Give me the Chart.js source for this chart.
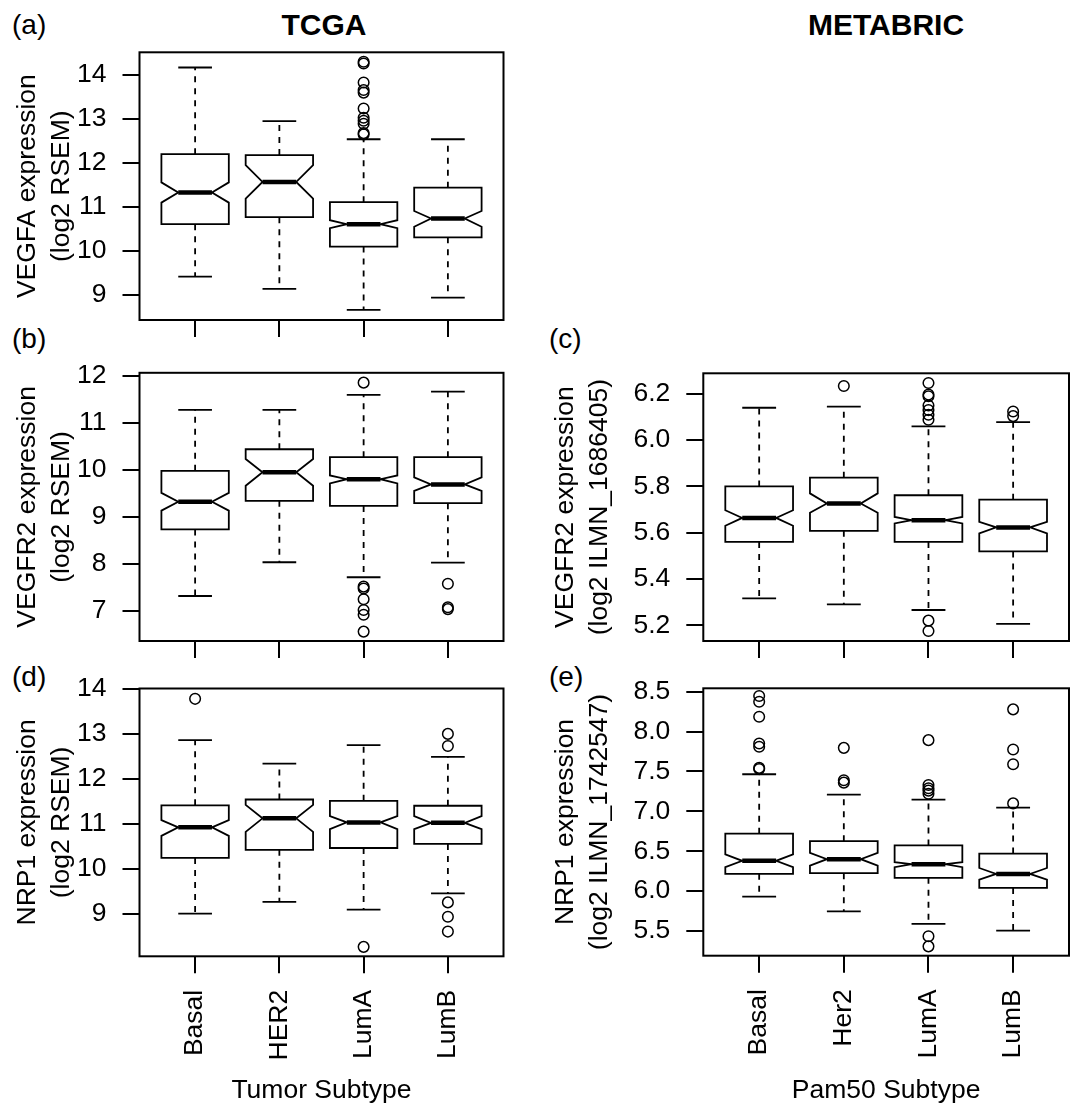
<!DOCTYPE html>
<html>
<head>
<meta charset="utf-8">
<title>VEGF pathway expression by subtype</title>
<script src="https://cdn.jsdelivr.net/npm/chart.js@4.4.0/dist/chart.umd.min.js"></script>
<style>
  body { margin: 0; background: #fff; font-family: "Liberation Sans", Arial, Helvetica, sans-serif; }
  #page { position: relative; width: 1085px; height: 1107px; overflow: hidden; background: #fff; }
  canvas { position: absolute; }
  .lab { position: absolute; font-size: 28px; line-height: 28px; color: #000; white-space: nowrap; }
  .head { position: absolute; width: 300px; text-align: center; font-size: 30px; line-height: 30px; font-weight: bold; color: #000; }
</style>
</head>
<body>
<div id="page">
  <div class="head" style="left:174px;top:10px">TCGA</div>
  <div class="head" style="left:736px;top:10px">METABRIC</div>
  <div class="lab" style="left:12px;top:11px">(a)</div>
  <div class="lab" style="left:12px;top:325px">(b)</div>
  <div class="lab" style="left:549px;top:325px">(c)</div>
  <div class="lab" style="left:12px;top:663px">(d)</div>
  <div class="lab" style="left:549px;top:663px">(e)</div>

  <canvas id="panelA" width="540" height="300" style="left:0;top:40px"></canvas>
  <canvas id="panelB" width="540" height="300" style="left:0;top:360px"></canvas>
  <canvas id="panelC" width="545" height="300" style="left:540px;top:360px"></canvas>
  <canvas id="panelD" width="540" height="431" style="left:0;top:676px"></canvas>
  <canvas id="panelE" width="545" height="431" style="left:540px;top:676px"></canvas>
</div>

<script>
  // groups on the x axis
  const tcgaGroups = ['Basal', 'HER2', 'LumA', 'LumB'];
  const metabricGroups = ['Basal', 'Her2', 'LumA', 'LumB'];

  // (a) VEGFA, TCGA
  const aLow = [9.42, 9.14, 8.66, 8.94];
  const aQ1 = [10.61, 10.77, 10.10, 10.31];
  const aNotchLow = [11.10, 11.19, 10.52, 10.55];
  const aMedian = [11.33, 11.57, 10.61, 10.74];
  const aNotchHigh = [11.56, 11.95, 10.70, 10.91];
  const aQ3 = [12.20, 12.18, 11.11, 11.44];
  const aHigh = [14.17, 12.95, 12.54, 12.54];
  const aOutliers = [[], [], [14.30, 14.26, 13.83, 13.66, 13.60, 13.24, 13.03, 12.96, 12.89, 12.68, 12.65], []];
  const aTicks = [9, 10, 11, 12, 13, 14];

  // (b) VEGFR2, TCGA
  const bLow = [7.31, 8.03, 7.71, 8.02];
  const bQ1 = [8.73, 9.34, 9.23, 9.29];
  const bNotchLow = [9.13, 9.66, 9.71, 9.55];
  const bMedian = [9.32, 9.95, 9.80, 9.69];
  const bNotchHigh = [9.51, 10.23, 9.88, 9.84];
  const bQ3 = [9.98, 10.44, 10.27, 10.27];
  const bHigh = [11.28, 11.28, 11.60, 11.67];
  const bOutliers = [[], [], [11.86, 7.51, 7.47, 7.24, 7.01, 6.91, 6.55], [7.57, 7.07, 7.03]];
  const bTicks = [7, 8, 9, 10, 11, 12];

  // (c) VEGFR2, METABRIC
  const cLow = [5.316, 5.290, 5.266, 5.206];
  const cQ1 = [5.560, 5.608, 5.560, 5.519];
  const cNotchLow = [5.630, 5.686, 5.640, 5.597];
  const cMedian = [5.664, 5.726, 5.654, 5.623];
  const cNotchHigh = [5.697, 5.770, 5.668, 5.647];
  const cQ3 = [5.800, 5.838, 5.762, 5.743];
  const cHigh = [6.140, 6.145, 6.060, 6.078];
  const cOutliers = [[], [6.234], [6.247, 6.197, 6.190, 6.150, 6.130, 6.110, 6.088, 5.220, 5.175], [6.124, 6.104]];
  const cTicks = [5.2, 5.4, 5.6, 5.8, 6.0, 6.2];

  // (d) NRP1, TCGA
  const dLow = [9.00, 9.26, 9.09, 9.45];
  const dQ1 = [10.24, 10.42, 10.46, 10.55];
  const dNotchLow = [10.73, 10.82, 10.88, 10.88];
  const dMedian = [10.92, 11.12, 11.03, 11.02];
  const dNotchHigh = [11.08, 11.42, 11.17, 11.17];
  const dQ3 = [11.41, 11.54, 11.51, 11.40];
  const dHigh = [12.86, 12.34, 12.75, 12.49];
  const dOutliers = [[13.78], [], [8.26], [13.00, 12.73, 9.25, 8.93, 8.60]];
  const dTicks = [9, 10, 11, 12, 13, 14];

  // (e) NRP1, METABRIC
  const eLow = [5.932, 5.747, 5.589, 5.504];
  const eQ1 = [6.217, 6.225, 6.167, 6.040];
  const eNotchLow = [6.300, 6.320, 6.300, 6.144];
  const eMedian = [6.380, 6.400, 6.338, 6.216];
  const eNotchHigh = [6.460, 6.480, 6.363, 6.290];
  const eQ3 = [6.720, 6.626, 6.573, 6.470];
  const eHigh = [7.465, 7.210, 7.147, 7.046];
  const eOutliers = [[8.446, 8.374, 8.186, 7.850, 7.810, 7.545, 7.530], [7.796, 7.390, 7.360],
                     [7.893, 7.330, 7.290, 7.260, 7.220, 5.433, 5.307], [8.279, 7.776, 7.591, 7.100]];
  const eTicks = [5.5, 6.0, 6.5, 7.0, 7.5, 8.0, 8.5];

  const FONT = "'Liberation Sans', Arial, Helvetica, sans-serif";
  const FONT_SIZE = 26.5;
  const BOX_HALF = 0.4;

  function boxPlugin(st) {
    return {
      id: 'notchBoxes',
      beforeDatasetsDraw(chart) {
        const { ctx, scales: { x, y } } = chart;
        const py = v => y.getPixelForValue(v);
        ctx.save();
        ctx.strokeStyle = '#000';
        ctx.lineJoin = 'miter';
        for (let i = 0; i < st.median.length; i++) {
          const cx = x.getPixelForValue(i + 1);
          const hw = x.getPixelForValue(i + 1 + BOX_HALF) - cx;
          // whiskers
          ctx.lineWidth = 1.8;
          ctx.setLineDash([6, 6]);
          ctx.beginPath();
          ctx.moveTo(cx, py(st.q3[i])); ctx.lineTo(cx, py(st.high[i]));
          ctx.moveTo(cx, py(st.q1[i])); ctx.lineTo(cx, py(st.low[i]));
          ctx.stroke();
          ctx.setLineDash([]);
          // staples
          ctx.beginPath();
          ctx.moveTo(cx - hw / 2, py(st.high[i])); ctx.lineTo(cx + hw / 2, py(st.high[i]));
          ctx.moveTo(cx - hw / 2, py(st.low[i])); ctx.lineTo(cx + hw / 2, py(st.low[i]));
          ctx.stroke();
          // notched box
          ctx.fillStyle = '#fff';
          ctx.beginPath();
          ctx.moveTo(cx - hw, py(st.q1[i]));
          ctx.lineTo(cx - hw, py(st.notchLow[i]));
          ctx.lineTo(cx - hw / 2, py(st.median[i]));
          ctx.lineTo(cx - hw, py(st.notchHigh[i]));
          ctx.lineTo(cx - hw, py(st.q3[i]));
          ctx.lineTo(cx + hw, py(st.q3[i]));
          ctx.lineTo(cx + hw, py(st.notchHigh[i]));
          ctx.lineTo(cx + hw / 2, py(st.median[i]));
          ctx.lineTo(cx + hw, py(st.notchLow[i]));
          ctx.lineTo(cx + hw, py(st.q1[i]));
          ctx.closePath();
          ctx.fill();
          ctx.stroke();
          // median
          ctx.lineWidth = 4.5;
          ctx.beginPath();
          ctx.moveTo(cx - hw / 2, py(st.median[i]));
          ctx.lineTo(cx + hw / 2, py(st.median[i]));
          ctx.stroke();
        }
        ctx.restore();
      },
      afterDraw(chart) {
        const { ctx, chartArea: a } = chart;
        ctx.save();
        ctx.strokeStyle = '#000';
        ctx.lineWidth = 2;
        ctx.strokeRect(a.left, a.top, a.right - a.left, a.bottom - a.top);
        ctx.restore();
      }
    };
  }

  // keep the plot box where the measured layout puts it
  function noPad(s) {
    s.paddingTop = 0;
    s.paddingBottom = 0;
    s.paddingLeft = 0;
    s.paddingRight = 0;
  }

  function makePanel(id, p) {
    const points = [];
    p.stats.outliers.forEach((list, i) => list.forEach(v => points.push({ x: i + 1, y: v })));
    const font = { family: FONT, size: FONT_SIZE };
    new Chart(document.getElementById(id), {
      type: 'scatter',
      data: {
        datasets: [{
          data: points,
          pointRadius: 5.3,
          pointBorderWidth: 1.5,
          pointBorderColor: '#000',
          pointBackgroundColor: 'rgba(0,0,0,0)',
          showLine: false
        }]
      },
      options: {
        responsive: false,
        devicePixelRatio: 1,
        animation: false,
        events: [],
        layout: { padding: { top: p.padTop, right: p.padRight, left: 0, bottom: 0 } },
        plugins: { legend: { display: false }, tooltip: { enabled: false } },
        scales: {
          x: {
            type: 'linear',
            min: 0.34,
            max: 4.66,
            afterBuildTicks: s => { s.ticks = p.groups.map((g, i) => ({ value: i + 1 })); },
            afterFit: s => { s.height = p.xAxisH; noPad(s); },
            ticks: {
              display: p.showX,
              callback: v => p.groups[Math.round(v) - 1],
              minRotation: 90,
              maxRotation: 90,
              autoSkip: false,
              padding: 16.5,
              color: '#000',
              font
            },
            grid: { display: true, drawOnChartArea: false, drawTicks: true, tickLength: 17, color: '#000', lineWidth: 2 },
            border: { display: false },
            title: { display: p.showX, text: p.xTitle, color: '#000', font, padding: { top: 0, bottom: 0 } }
          },
          y: {
            type: 'linear',
            min: p.yMin,
            max: p.yMax,
            afterBuildTicks: s => { s.ticks = p.ticks.map(v => ({ value: v })); },
            afterFit: s => { s.width = p.yAxisW; noPad(s); },
            ticks: { callback: v => p.fmt(v), padding: 16, color: '#000', font },
            grid: { display: true, drawOnChartArea: false, drawTicks: true, tickLength: 17, color: '#000', lineWidth: 2 },
            border: { display: false },
            title: {
              display: true,
              text: p.yTitle,
              color: '#000',
              font: { family: FONT, size: FONT_SIZE, lineHeight: 1.3 },
              padding: { top: p.yTitlePad, bottom: 0 }
            }
          }
        }
      },
      plugins: [boxPlugin(p.stats)]
    });
  }

  const intFmt = v => String(Math.round(v));
  const decFmt = v => v.toFixed(1);

  makePanel('panelA', {
    groups: tcgaGroups, ticks: aTicks, fmt: intFmt, yMin: 8.432, yMax: 14.516,
    yTitle: ['VEGFA expression', '(log2 RSEM)'], xTitle: 'Tumor Subtype', showX: false,
    padTop: 12.3, padRight: 36.5, xAxisH: 20, yAxisW: 139.5, yTitlePad: 10,
    stats: { low: aLow, q1: aQ1, notchLow: aNotchLow, median: aMedian, notchHigh: aNotchHigh, q3: aQ3, high: aHigh, outliers: aOutliers }
  });
  makePanel('panelB', {
    groups: tcgaGroups, ticks: bTicks, fmt: intFmt, yMin: 6.35, yMax: 12.07,
    yTitle: ['VEGFR2 expression', '(log2 RSEM)'], xTitle: 'Tumor Subtype', showX: false,
    padTop: 12.8, padRight: 36.5, xAxisH: 19, yAxisW: 139.5, yTitlePad: 10,
    stats: { low: bLow, q1: bQ1, notchLow: bNotchLow, median: bMedian, notchHigh: bNotchHigh, q3: bQ3, high: bHigh, outliers: bOutliers }
  });
  makePanel('panelC', {
    groups: metabricGroups, ticks: cTicks, fmt: decFmt, yMin: 5.132, yMax: 6.289,
    yTitle: ['VEGFR2 expression', '(log2 ILMN_1686405)'], xTitle: 'Pam50 Subtype', showX: false,
    padTop: 13.3, padRight: 16, xAxisH: 19, yAxisW: 163.3, yTitlePad: 8.5,
    stats: { low: cLow, q1: cQ1, notchLow: cNotchLow, median: cMedian, notchHigh: cNotchHigh, q3: cQ3, high: cHigh, outliers: cOutliers }
  });
  makePanel('panelD', {
    groups: tcgaGroups, ticks: dTicks, fmt: intFmt, yMin: 8.05, yMax: 14.01,
    yTitle: ['NRP1 expression', '(log2 RSEM)'], xTitle: 'Tumor Subtype', showX: true,
    padTop: 12.5, padRight: 36.5, xAxisH: 150.7, yAxisW: 139.5, yTitlePad: 10,
    stats: { low: dLow, q1: dQ1, notchLow: dNotchLow, median: dMedian, notchHigh: dNotchHigh, q3: dQ3, high: dHigh, outliers: dOutliers }
  });
  makePanel('panelE', {
    groups: metabricGroups, ticks: eTicks, fmt: decFmt, yMin: 5.19, yMax: 8.543,
    yTitle: ['NRP1 expression', '(log2 ILMN_1742547)'], xTitle: 'Pam50 Subtype', showX: true,
    padTop: 12.3, padRight: 16, xAxisH: 151.3, yAxisW: 163.3, yTitlePad: 8.5,
    stats: { low: eLow, q1: eQ1, notchLow: eNotchLow, median: eMedian, notchHigh: eNotchHigh, q3: eQ3, high: eHigh, outliers: eOutliers }
  });
</script>
</body>
</html>
